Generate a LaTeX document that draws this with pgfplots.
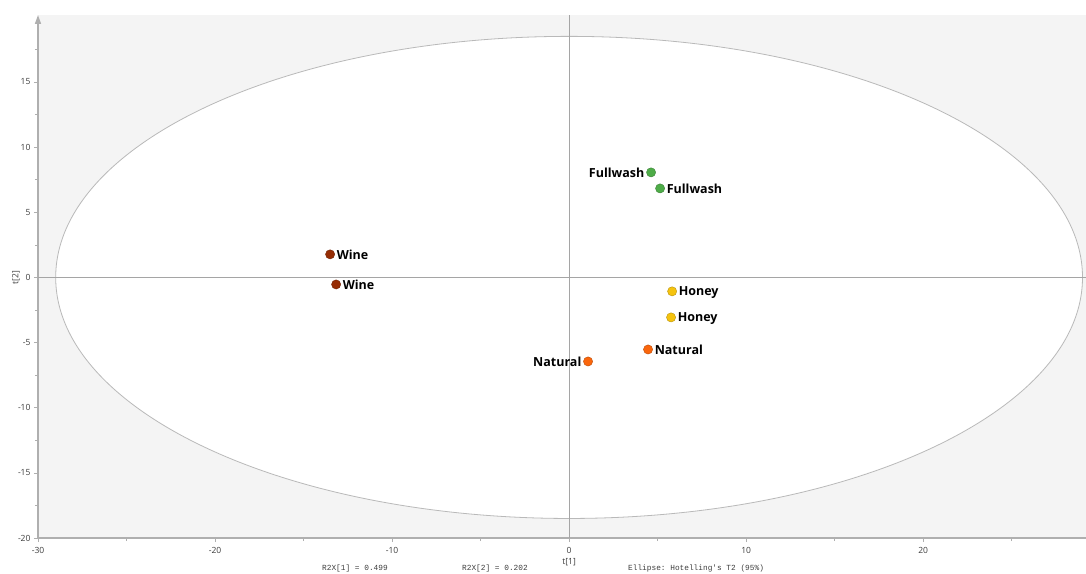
\documentclass[border=0pt]{standalone}
\usepackage{pgfplots}
\pgfplotsset{compat=1.18}
\usetikzlibrary{arrows.meta,calc}
\usepackage{fontspec}
\setmainfont{Open Sans}
\setmonofont{Liberation Mono}
\definecolor{bgc}{RGB}{244,244,244}
\definecolor{axc}{RGB}{175,175,175}
\definecolor{linec}{RGB}{165,165,165}
\definecolor{ellc}{RGB}{185,185,185}
\definecolor{ticklab}{RGB}{60,60,60}
\definecolor{cfull}{RGB}{78,172,72}
\definecolor{cwine}{RGB}{150,45,5}
\definecolor{choney}{RGB}{245,195,15}
\definecolor{cnat}{RGB}{250,102,12}
\begin{document}
\begin{tikzpicture}
\begin{axis}[
  name=ax,
  scale only axis, width=1048pt, height=523pt,
  xmin=-30, xmax=29.2, ymin=-20, ymax=20.14,
  axis lines=left,
  axis line style={axc, line width=1.6pt},
  x axis line style={-},
  y axis line style={-{Triangle[width=6pt,length=9pt]}},
  axis background/.style={fill=bgc},
  xtick={-30,-20,-10,0,10,20},
  minor xtick={-25,-15,-5,5,15,25},
  ytick={-20,-15,-10,-5,0,5,10,15},
  minor ytick={-17.5,-12.5,-7.5,-2.5,2.5,7.5,12.5,17.5},
  tick align=outside,
  major tick length=4pt, minor tick length=3pt,
  tick style={axc, line width=0.6pt},
  ticklabel style={font=\fontsize{8.5}{10}\selectfont, text=ticklab},
  xticklabel style={yshift=-2pt},
  /pgf/number format/assume math mode=true,
  xlabel={t[1]}, ylabel={t[2]},
  x label style={at={(axis description cs:0.5068,0)}, anchor=center, yshift=-24pt, font=\fontsize{8.5}{10}\selectfont, text=ticklab},
  y label style={at={(axis description cs:0,0.4983)}, anchor=center, yshift=22pt, font=\fontsize{8.5}{10}\selectfont, text=ticklab},
  clip=false,
  every node near coord/.append style={font=\fontsize{12.5}{14}\selectfont\bfseries, text=black, inner sep=0pt},
]
\draw[ellc, line width=0.8pt, fill=white] (axis cs:0,0) ellipse [x radius=29, y radius=18.5];
\draw[linec, line width=0.8pt] (axis cs:0,-20) -- (axis cs:0,20.14);
\draw[linec, line width=0.8pt] (axis cs:-30,0) -- (axis cs:29.2,0);
% Fullwash
\addplot[only marks, mark=*, mark size=4.6pt, mark options={fill=cfull, draw=cfull!75!black, line width=0.4pt},
  nodes near coords={Fullwash}, nodes near coords style={anchor=east, xshift=-6.5pt, yshift=-0.8pt}]
  coordinates {(4.63,8.06)};
\addplot[only marks, mark=*, mark size=4.6pt, mark options={fill=cfull, draw=cfull!75!black, line width=0.4pt},
  nodes near coords={Fullwash}, nodes near coords style={anchor=west, xshift=6.5pt, yshift=-0.8pt}]
  coordinates {(5.14,6.83)};
% Wine
\addplot[only marks, mark=*, mark size=4.6pt, mark options={fill=cwine, draw=cwine!75!black, line width=0.4pt},
  nodes near coords={Wine}, nodes near coords style={anchor=west, xshift=6.5pt, yshift=-0.8pt}]
  coordinates {(-13.50,1.77) (-13.16,-0.54)};
% Honey
\addplot[only marks, mark=*, mark size=4.6pt, mark options={fill=choney, draw=choney!75!black, line width=0.4pt},
  nodes near coords={Honey}, nodes near coords style={anchor=west, xshift=6.5pt, yshift=-0.8pt}]
  coordinates {(5.82,-1.07) (5.76,-3.07)};
% Natural
\addplot[only marks, mark=*, mark size=4.6pt, mark options={fill=cnat, draw=cnat!75!black, line width=0.4pt},
  nodes near coords={Natural}, nodes near coords style={anchor=west, xshift=6.5pt, yshift=-0.8pt}]
  coordinates {(4.46,-5.53)};
\addplot[only marks, mark=*, mark size=4.6pt, mark options={fill=cnat, draw=cnat!75!black, line width=0.4pt},
  nodes near coords={Natural}, nodes near coords style={anchor=east, xshift=-6.5pt, yshift=-0.8pt}]
  coordinates {(1.07,-6.45)};
\end{axis}
\begin{scope}[shift={(ax.south west)}, every node/.style={font=\ttfamily\fontsize{7.8}{9}\selectfont, text=ticklab, anchor=west, inner sep=0pt}]
\node at (284pt,-30pt) {R2X[1] = 0.499};
\node at (424pt,-30pt) {R2X[2] = 0.202};
\node at (590pt,-30pt) {Ellipse: Hotelling's T2 (95\%)};
\end{scope}
\pgfresetboundingbox
\path[use as bounding box] ($(ax.south west)+(-38pt,-35pt)$) rectangle ($(ax.south west)+(1048pt,538pt)$);
\end{tikzpicture}
\end{document}
